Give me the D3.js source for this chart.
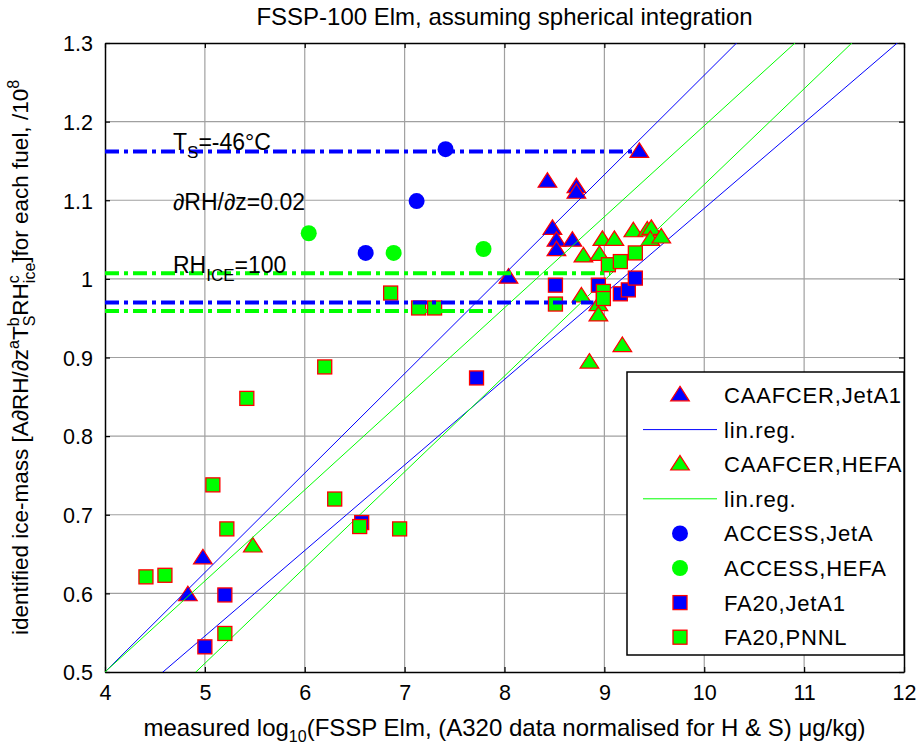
<!DOCTYPE html>
<html><head><meta charset="utf-8">
<script src="https://cdn.jsdelivr.net/npm/d3@7"></script>
<style>
body{margin:0;background:#fff;}
svg text{font-family:"Liberation Sans", Arial, Helvetica, sans-serif;fill:#000;}
</style></head><body>
<svg id="chart" width="919" height="749"></svg>
<script>
// ---- axis ticks ----
const xTicks = [4, 5, 6, 7, 8, 9, 10, 11, 12];
const yTicks = [0.5, 0.6, 0.7, 0.8, 0.9, 1.0, 1.1, 1.2, 1.3];
const yTickLabels = ["0.5", "0.6", "0.7", "0.8", "0.9", "1", "1.1", "1.2", "1.3"];

// ---- CAAFCER, JetA1 (triangles) ----
const caafJetX = [9.35, 8.43, 8.72, 8.72, 8.48, 8.52, 8.52, 8.68, 8.04, 4.98, 4.83];
const caafJetY = [1.162, 1.124, 1.117, 1.110, 1.064, 1.049, 1.037, 1.049, 1.002, 0.645, 0.598];

// ---- CAAFCER, HEFA (triangles) ----
const caafHefaX = [8.98, 9.10, 9.29, 9.43, 9.47, 9.46, 9.57, 8.79, 8.95, 8.77, 8.94, 8.94, 9.18, 8.85, 5.48];
const caafHefaY = [1.050, 1.050, 1.061, 1.062, 1.064, 1.050, 1.053, 1.029, 1.031, 0.978, 0.967, 0.954, 0.915, 0.894, 0.660];

// ---- ACCESS (circles) ----
const accessJetX = [7.41, 7.12, 6.61];
const accessJetY = [1.165, 1.099, 1.033];
const accessHefaX = [6.04, 6.89, 7.79];
const accessHefaY = [1.058, 1.033, 1.038];

// ---- FA20 (squares) ----
const fa20JetX = [8.51, 8.94, 9.16, 9.24, 9.31, 7.72, 5.20, 5.00, 6.57];
const fa20JetY = [0.992, 0.992, 0.981, 0.986, 1.001, 0.874, 0.598, 0.532, 0.690];
const fa20PnnlX = [4.41, 4.60, 5.08, 5.22, 5.20, 6.30, 6.55, 6.95, 6.20, 6.86, 7.14, 7.30, 5.42, 8.51, 9.04, 9.16, 9.31, 8.99, 8.99];
const fa20PnnlY = [0.621, 0.623, 0.738, 0.682, 0.549, 0.720, 0.685, 0.682, 0.888, 0.982, 0.963, 0.963, 0.848, 0.968, 1.018, 1.022, 1.033, 0.984, 0.975];

// ---- linear regressions (y = slope*x + intercept) ----
const regSlopes = [0.1265, 0.1158, 0.1088, 0.1218];
const regIntercepts = [-0.006, 0.0368, 0.0017, -0.098];
const regColors = ["#0000ff", "#00ff00", "#0000ff", "#00ff00"];

// ---- horizontal reference levels (dash-dot) ----
const refLevels = [1.162, 0.970, 1.007, 0.959];
const refXStart = [4, 4, 4, 4];
const refXEnd = [9.3, 8.89, 9.06, 7.9];
const refColors = ["#0000ff", "#0000ff", "#00ff00", "#00ff00"];

// ---- legend ----
const legendLabels = ["CAAFCER,JetA1", "lin.reg.", "CAAFCER,HEFA", "lin.reg.", "ACCESS,JetA", "ACCESS,HEFA", "FA20,JetA1", "FA20,PNNL"];
const legendKinds = ["tri", "line", "tri", "line", "circle", "circle", "square", "square"];
const legendColors = ["#0000ff", "#0000ff", "#00ff00", "#00ff00", "#0000ff", "#00ff00", "#0000ff", "#00ff00"];

const BLUE = "#0000ff", GREEN = "#00ff00", RED = "#ff0000";

const svg = d3.select("#chart");
const margin = {left: 105, right: 15, top: 43, bottom: 77};
const W = 919, H = 749;
const x = d3.scaleLinear().domain([4, 12]).range([margin.left, W - margin.right]);
const y = d3.scaleLinear().domain([0.5, 1.3]).range([H - margin.bottom, margin.top]);
const x0 = x.range()[0], x1 = x.range()[1], y0 = y.range()[0], y1 = y.range()[1];

svg.append("rect").attr("width", W).attr("height", H).attr("fill", "#fff");

svg.append("defs").append("clipPath").attr("id", "plotClip")
  .append("rect").attr("x", x0).attr("y", y1).attr("width", x1 - x0).attr("height", y0 - y1);

// grid
const grid = svg.append("g").attr("stroke", "#a0a0a0").attr("stroke-width", 1.2);
xTicks.slice(1, -1).forEach(v => grid.append("line").attr("x1", x(v)).attr("x2", x(v)).attr("y1", y0).attr("y2", y1));
yTicks.slice(1, -1).forEach(v => grid.append("line").attr("y1", y(v)).attr("y2", y(v)).attr("x1", x0).attr("x2", x1));

// axes with inward ticks on all four sides
const tickLen = 5;
const fmtY = d => yTickLabels[yTicks.indexOf(d)];
const axB = svg.append("g").attr("transform", `translate(0,${y0})`)
  .call(d3.axisBottom(x).tickValues(xTicks).tickSizeInner(-tickLen).tickSizeOuter(0).tickPadding(12).tickFormat(d3.format("d")));
const axT = svg.append("g").attr("transform", `translate(0,${y1})`)
  .call(d3.axisTop(x).tickValues(xTicks).tickSizeInner(-tickLen).tickSizeOuter(0).tickFormat(""));
const axL = svg.append("g").attr("transform", `translate(${x0},0)`)
  .call(d3.axisLeft(y).tickValues(yTicks).tickSizeInner(-tickLen).tickSizeOuter(0).tickPadding(12).tickFormat(fmtY));
const axR = svg.append("g").attr("transform", `translate(${x1},0)`)
  .call(d3.axisRight(y).tickValues(yTicks).tickSizeInner(-tickLen).tickSizeOuter(0).tickFormat(""));
[axB, axT, axL, axR].forEach(g => {
  g.select(".domain").attr("stroke", "#000").attr("stroke-width", 1.5);
  g.selectAll(".tick line").attr("stroke", "#000").attr("stroke-width", 1.2);
  g.selectAll(".tick text").attr("font-size", 21.5).attr("font-family", "Liberation Sans, Arial, sans-serif").attr("fill", "#000");
});
axB.selectAll(".tick text").attr("dy", "0.75em");
axL.selectAll(".tick text").attr("dy", "0.36em");

const plot = svg.append("g").attr("clip-path", "url(#plotClip)");

// marker helpers
const triPath = d3.symbol().type(d3.symbolTriangle).size(150);
const triScale = "scale(1.0,0.9)";
function drawTriangles(g, xs, ys, fill) {
  g.selectAll(null).data(xs.map((v, i) => [v, ys[i]])).join("path")
    .attr("d", triPath)
    .attr("transform", d => `translate(${x(d[0])},${y(d[1]) + 1}) ${triScale}`)
    .attr("fill", fill).attr("stroke", RED).attr("stroke-width", 1.3);
}
function drawCircles(g, xs, ys, fill) {
  g.selectAll(null).data(xs.map((v, i) => [v, ys[i]])).join("circle")
    .attr("cx", d => x(d[0])).attr("cy", d => y(d[1])).attr("r", 8).attr("fill", fill);
}
function drawSquares(g, xs, ys, fill) {
  const s = 14;
  g.selectAll(null).data(xs.map((v, i) => [v, ys[i]])).join("rect")
    .attr("x", d => x(d[0]) - s / 2).attr("y", d => y(d[1]) - s / 2).attr("width", s).attr("height", s)
    .attr("fill", fill).attr("stroke", RED).attr("stroke-width", 1.3);
}
function drawReg(g, i) {
  const f = v => regSlopes[i] * v + regIntercepts[i];
  g.append("line").attr("x1", x(4)).attr("y1", y(f(4))).attr("x2", x(12)).attr("y2", y(f(12)))
    .attr("stroke", regColors[i]).attr("stroke-width", 1);
}

drawTriangles(plot.append("g"), caafJetX, caafJetY, BLUE);
drawReg(plot, 0); drawReg(plot, 2);
drawTriangles(plot.append("g"), caafHefaX, caafHefaY, GREEN);
drawReg(plot, 1); drawReg(plot, 3);
drawCircles(plot.append("g"), accessJetX, accessJetY, BLUE);
drawCircles(plot.append("g"), accessHefaX, accessHefaY, GREEN);
drawSquares(plot.append("g"), fa20JetX, fa20JetY, BLUE);
drawSquares(plot.append("g"), fa20PnnlX, fa20PnnlY, GREEN);

// dash-dot reference levels
refLevels.forEach((lv, i) => {
  plot.append("line").attr("x1", x(refXStart[i])).attr("x2", x(refXEnd[i]))
    .attr("y1", y(lv)).attr("y2", y(lv))
    .attr("stroke", refColors[i]).attr("stroke-width", 4).attr("stroke-dasharray", "14,5,4,5");
});

// annotations
const ann = svg.append("g").attr("font-size", 23);
const t1 = ann.append("text").attr("x", 173).attr("y", 150);
t1.append("tspan").text("T");
t1.append("tspan").attr("font-size", 17).attr("dy", 8).text("S");
t1.append("tspan").attr("dy", -8).text("=-46°C");
ann.append("text").attr("x", 173).attr("y", 210).text("∂RH/∂z=0.02");
const t3 = ann.append("text").attr("x", 173).attr("y", 273);
t3.append("tspan").text("RH");
t3.append("tspan").attr("font-size", 17).attr("dy", 8).text("ICE");
t3.append("tspan").attr("dy", -8).text("=100");

// legend
const lg = svg.append("g");
const lgX = 627, lgY = 372, lgW = x1 - 627, lgH = 283;
lg.append("rect").attr("x", lgX).attr("y", lgY).attr("width", lgW).attr("height", lgH)
  .attr("fill", "#fff").attr("stroke", "#000").attr("stroke-width", 1.5);
legendLabels.forEach((lab, i) => {
  const cy = 395 + i * 34.6;
  const k = legendKinds[i], c = legendColors[i];
  if (k === "tri") {
    lg.append("path").attr("d", triPath).attr("transform", `translate(680,${cy + 1}) ${triScale}`)
      .attr("fill", c).attr("stroke", RED).attr("stroke-width", 1.3);
  } else if (k === "line") {
    lg.append("line").attr("x1", 643).attr("x2", 717).attr("y1", cy).attr("y2", cy).attr("stroke", c).attr("stroke-width", 1);
  } else if (k === "circle") {
    lg.append("circle").attr("cx", 680).attr("cy", cy).attr("r", 8).attr("fill", c);
  } else {
    lg.append("rect").attr("x", 673).attr("y", cy - 7).attr("width", 14).attr("height", 14)
      .attr("fill", c).attr("stroke", RED).attr("stroke-width", 1.3);
  }
  lg.append("text").attr("x", 724).attr("y", cy + 8).attr("font-size", 22).attr("letter-spacing", 0.8).text(lab);
});

// title
svg.append("text").attr("x", (x0 + x1) / 2).attr("y", 25).attr("text-anchor", "middle")
  .attr("font-size", 24).text("FSSP-100 Elm, assuming spherical integration");

// x label
const xl = svg.append("text").attr("x", (x0 + x1) / 2).attr("y", 736).attr("text-anchor", "middle").attr("font-size", 24);
xl.append("tspan").text("measured log");
xl.append("tspan").attr("font-size", 16).attr("dy", 6).text("10");
xl.append("tspan").attr("dy", -6).text("(FSSP Elm, (A320 data normalised for H & S) μg/kg)");

// y label
const yl = svg.append("text").attr("transform", `translate(28,${(y0 + y1) / 2}) rotate(-90)`).attr("text-anchor", "middle").attr("font-size", 22.5);
yl.append("tspan").text("identified ice-mass [A∂RH/∂z");
yl.append("tspan").attr("font-size", 16).attr("dy", -9).text("a");
yl.append("tspan").attr("dy", 9).text("T");
yl.append("tspan").attr("font-size", 16).attr("dy", -9).text("b");
yl.append("tspan").attr("font-size", 16).attr("dx", -8.9).attr("dy", 16).text("S");
yl.append("tspan").attr("dy", -7).text("RH");
yl.append("tspan").attr("font-size", 16).attr("dy", -9).text("c");
yl.append("tspan").attr("font-size", 16).attr("dx", -8).attr("dy", 16).text("ice");
yl.append("tspan").attr("dy", -7).text("]for each fuel, /10");
yl.append("tspan").attr("font-size", 16).attr("dy", -9).text("8");
</script>
</body></html>
